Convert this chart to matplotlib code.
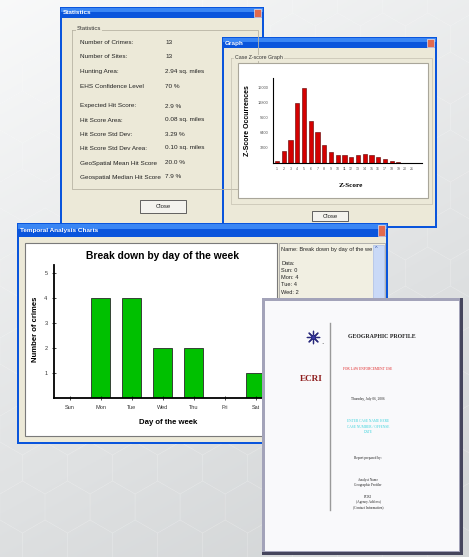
import numpy as np
import matplotlib
matplotlib.use('Agg')
import matplotlib.pyplot as plt
from matplotlib.patches import Rectangle, RegularPolygon

W, H = 469, 557
plt.rcParams['font.family'] = ['Liberation Sans', 'DejaVu Sans']

# statistics dialog
stat_labels = ['Number of Crimes:', 'Number of Sites:', 'Hunting Area:', 'EHS Confidence Level',
               'Expected Hit Score:', 'Hit Score Area:', 'Hit Score Std Dev:', 'Hit Score Std Dev Area:',
               'GeoSpatial Mean Hit Score', 'Geospatial Median Hit Score']
stat_values = ['13', '13', '2.94 sq. miles', '70 %', '2.9 %', '0.08 sq. miles', '3.29 %',
               '0.10 sq. miles', '20.0 %', '7.9 %']

# case z-score graph
z_scores = list(range(1, 22))
z_counts = [350, 2600, 5000, 12800, 16000, 8900, 6500, 3800, 2400, 1600, 1600,
            1200, 1600, 1900, 1600, 1200, 800, 500, 200, 80, 60]
z_ticks = [3200, 6400, 9600, 12800, 16000]

# day of week chart
days = ['Sun', 'Mon', 'Tue', 'Wed', 'Thu', 'Fri', 'Sat']
crimes = [0, 4, 4, 2, 2, 0, 1]


def frac(x0, y0, x1, y1):
    return [x0 / W, 1 - y1 / H, (x1 - x0) / W, (y1 - y0) / H]


def layer():
    a = fig.add_axes([0, 0, 1, 1])
    a.set_xlim(0, W)
    a.set_ylim(H, 0)
    a.axis('off')
    return a


def box(a, x0, y0, x1, y1, fc, ec='none', lw=0, z=1):
    a.add_patch(Rectangle((x0, y0), x1 - x0, y1 - y0, fc=fc, ec=ec, lw=lw, zorder=z))


def xp_window(a, x0, y0, x1, y1, title, tb=11):
    box(a, x0, y0, x1, y1, '#0a55dc')
    box(a, x0 + 2, y0 + tb, x1 - 2, y1 - 2, '#ece9d8')
    box(a, x0 + 1, y0 + 1, x1 - 1, y0 + tb * 0.45, '#3a86f4')
    a.text(x0 + 3, y0 + tb / 2 + 0.5, title, color='white', fontsize=4.6, fontweight='bold',
           va='center', ha='left')
    box(a, x1 - 10, y0 + 2, x1 - 3, y0 + tb - 1, '#e26a4e', ec='white', lw=0.4)


def button(a, x0, y0, x1, y1, label):
    box(a, x0, y0, x1, y1, '#f4f3ee', ec='#4a4a4a', lw=0.6)
    a.text((x0 + x1) / 2, (y0 + y1) / 2, label, fontsize=4.3, ha='center', va='center', color='#222')


fig = plt.figure(figsize=(W / 100, H / 100), dpi=100)

# background with a faint hexagon pattern
bg = layer()
yy, xx = np.mgrid[0:1:200j, 0:1:200j]
t = np.clip(0.75 * yy + 0.35 * xx, 0, 1)[..., None]
grad = (1 - t) * np.array([0.975, 0.978, 0.98]) + t * np.array([0.83, 0.84, 0.845])
bg.imshow(grad, extent=[0, W, H, 0], aspect='auto', zorder=0)
r = 26
for row in range(int(H / (1.5 * r)) + 2):
    for col in range(int(W / (np.sqrt(3) * r)) + 2):
        cx = col * np.sqrt(3) * r + (row % 2) * np.sqrt(3) * r / 2
        cy = row * 1.5 * r
        bg.add_patch(RegularPolygon((cx, cy), 6, radius=r, fc='none', ec='white',
                                    lw=0.5, alpha=0.15, zorder=0.5))

# statistics window
xp_window(bg, 60, 7, 264, 226, 'Statistics', tb=11)
bg.plot([72, 72, 258, 258, 72], [30, 189, 189, 30, 30], color='#b8b4a4', lw=0.6, zorder=2)
bg.text(77, 29, 'Statistics', fontsize=4.3, va='center', color='#333',
        bbox=dict(fc='#ece9d8', ec='none', pad=0.6), zorder=3)
rows_y = [43, 57, 71, 86, 106, 120, 134, 148, 163, 177]
for lab, val, ry in zip(stat_labels, stat_values, rows_y):
    bg.text(80, ry, lab, fontsize=4.6, va='center', color='#222', zorder=3)
    bg.text(165, ry, val, fontsize=4.6, va='center', color='#222', zorder=3)
button(bg, 140, 200, 186, 213, 'Close')

# graph window
xp_window(bg, 222, 37, 437, 228, 'Graph', tb=11)
bg.plot([231, 231, 432, 432, 231], [58, 204, 204, 58, 58], color='#c4c0b0', lw=0.5, zorder=2)
bg.text(235, 58, 'Case Z-score Graph', fontsize=3.8, va='center', color='#333', zorder=3,
        bbox=dict(fc='#ece9d8', ec='none', pad=0.5))
box(bg, 238, 63, 428, 198, 'white', ec='#a9a69a', lw=0.8, z=2)
button(bg, 312, 211, 348, 221, 'Close')

az = fig.add_axes(frac(273, 78, 422, 163))
az.bar(z_scores, z_counts, width=0.62, color='#d40000', edgecolor='#5a0000', linewidth=0.4)
az.set_xlim(0.4, 22.5)
az.set_ylim(0, 18100)
az.set_xticks(z_scores)
az.set_xticklabels([str(v) for v in z_scores], fontsize=2.6, color='#555')
az.set_yticks(z_ticks)
az.set_yticklabels([str(v) for v in z_ticks], fontsize=2.8, color='#555')
az.tick_params(length=0, pad=3)
for s in ['top', 'right']:
    az.spines[s].set_visible(False)
for s in ['left', 'bottom']:
    az.spines[s].set_linewidth(0.8)
az.patch.set_alpha(0)
az.set_ylabel('Z-Score Occurrences', fontsize=5, fontweight='bold')
az.yaxis.set_label_coords(-0.15, 0.5)
az.set_xlabel('Z-Score', fontsize=5.2, fontweight='bold', family='Liberation Serif')
az.xaxis.set_label_coords(0.52, -0.23)

# temporal analysis window
tw = layer()
xp_window(tw, 17, 223, 388, 444, 'Temporal Analysis Charts', tb=14)
box(tw, 25, 243, 277, 436, 'white', ec='#7a7a7a', lw=0.8, z=2)
box(tw, 279, 243, 385, 300, '#f1efe2', ec='#9a9a9a', lw=0.5, z=2)
box(tw, 373, 245, 384, 300, '#c9d9f7', ec='#9fb6e6', lw=0.4, z=3)
tw.text(376.5, 249, '^', fontsize=4, ha='center', va='center', color='#2a4a9a', zorder=4)
panel_lines = ['Name: Break down by day of the we', '', 'Data:'] + \
              ['%s: %d' % (d, c) for d, c in zip(days[:4], crimes[:4])]
for i, line in enumerate(panel_lines):
    tw.text(281, 249 + 7.2 * i, line, fontsize=4.1, va='center', color='#222', zorder=4)

ab = fig.add_axes(frac(54, 265, 271, 398))
ab.bar(range(len(days)), crimes, width=0.6, color='#00c000', edgecolor='#2a2a2a', linewidth=0.6)
ab.set_xlim(-0.5, 6.5)
ab.set_ylim(0, 5.32)
ab.set_xticks(range(len(days)))
ab.set_xticklabels(days, fontsize=4, color='#333')
ab.set_yticks([1, 2, 3, 4, 5])
ab.set_yticklabels(['1', '2', '3', '4', '5'], fontsize=4, color='#333')
ab.tick_params(direction='inout', length=2.5, width=0.5, pad=3.5)
for s in ['top', 'right']:
    ab.spines[s].set_visible(False)
for s in ['left', 'bottom']:
    ab.spines[s].set_linewidth(1.3)
ab.patch.set_alpha(0)
ab.set_title('Break down by day of the week', fontsize=7.4, fontweight='bold', pad=4)
ab.set_ylabel('Number of crimes', fontsize=5.6, fontweight='bold')
ab.yaxis.set_label_coords(-0.07, 0.52)
ab.set_xlabel('Day of the week', fontsize=5.6, fontweight='bold')
ab.xaxis.set_label_coords(0.525, -0.16)

# geographic profile report page
dp = layer()
box(dp, 262, 298, 463, 555, '#45455c')
box(dp, 262, 298, 460, 552, '#a3a3b9')
box(dp, 265, 301, 459, 551, '#f9f9fb')
dp.scatter([313], [337], s=80, marker=(8, 2, 0), color='#27277a', lw=0.9, zorder=3)
dp.scatter([313], [337], s=18, marker='*', color='#3a3aa8', lw=0, zorder=3)
dp.text(322, 344, 'Inc', fontsize=1.6, color='#555')
dp.text(311, 379, 'ECRI', fontsize=6.6, fontweight='bold', color='#8e1c1c', ha='center', va='center',
        family='Liberation Serif')
dp.plot([330, 330], [323, 510], color='#9a9a9a', lw=1.0)
dp.text(382, 337, 'GEOGRAPHIC PROFILE', fontsize=4.2, fontweight='bold', color='#222', ha='center',
        va='center', family='Liberation Serif')
doc_lines = [
    (369, 'FOR LAW ENFORCEMENT USE', '#e02020'),
    (399, 'Thursday, July 06, 2006', '#222'),
    (421, 'ENTER CASE NAME HERE', '#39d3dc'),
    (427, 'CASE NUMBER / OFFENSE', '#39d3dc'),
    (432, 'DATE', '#39d3dc'),
    (458, 'Report prepared by:', '#222'),
    (480, 'Analyst Name', '#222'),
    (485, 'Geographic Profiler', '#222'),
    (497, 'ECRI', '#222'),
    (502, '(Agency Address)', '#222'),
    (507, '(Contact Information)', '#222'),
]
for ly, txt, col in doc_lines:
    dp.text(368, ly, txt, fontsize=2.5, color=col, ha='center', va='center', family='Liberation Serif')

fig.savefig('out.png', dpi=100)
